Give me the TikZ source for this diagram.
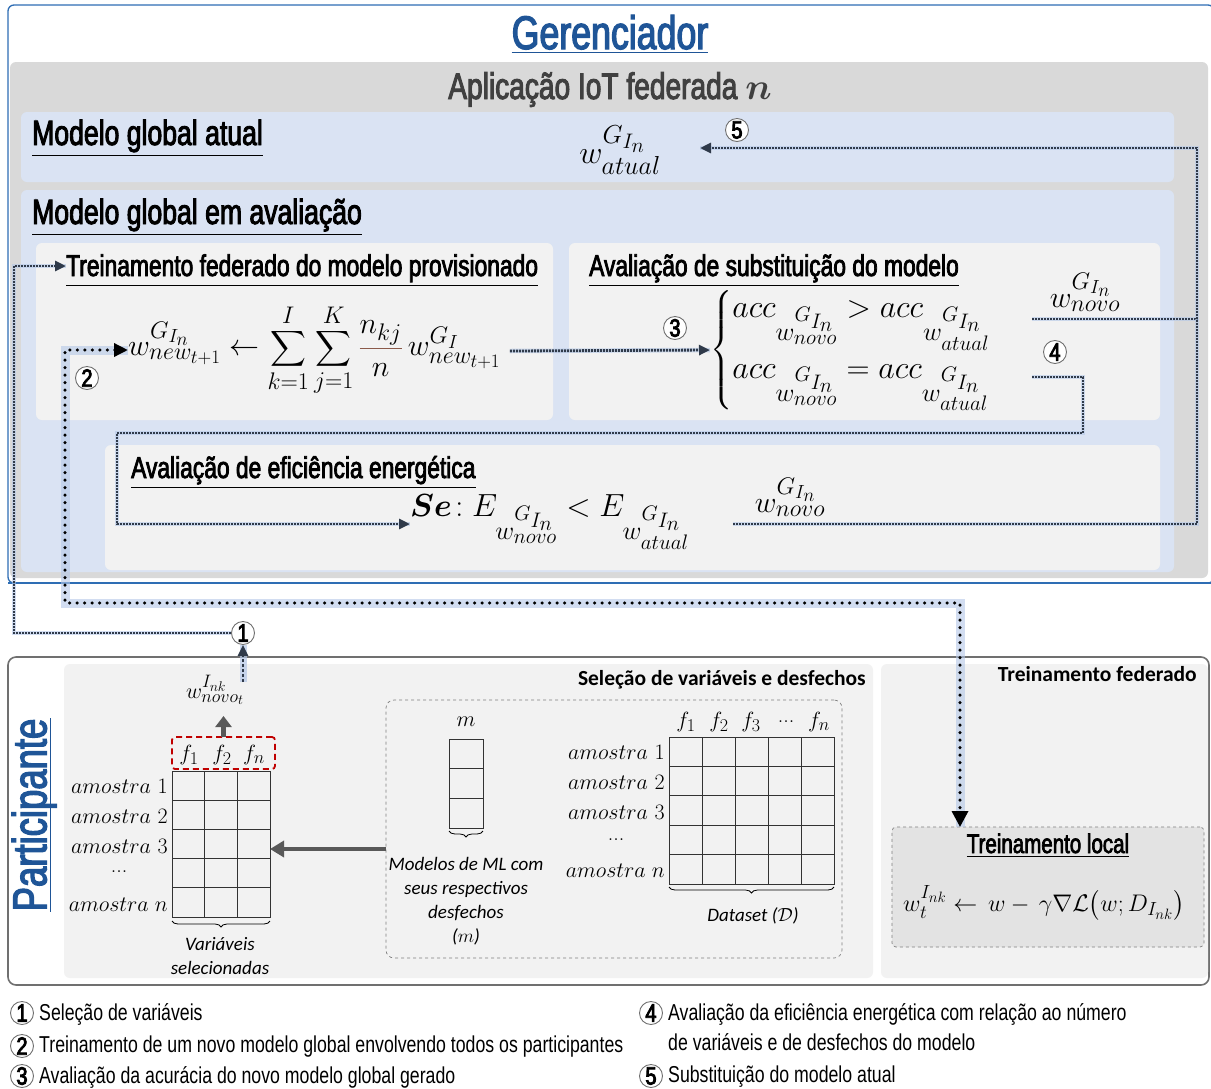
\RequirePackage{fix-cm}
\documentclass[tikz,border=0pt]{standalone}
\usepackage{amsmath}
\usepackage{fontspec}
\newfontfamily\cond{Liberation Sans}[FakeStretch=0.77]
\newfontfamily\condm{Liberation Sans}[FakeStretch=0.76, FakeBold=2.6]
\newfontfamily\condb{Liberation Sans}[FakeStretch=0.8, FakeBold=3.5]
\newfontfamily\calib{Carlito}
\usetikzlibrary{arrows.meta,decorations.pathreplacing,calc}
\newcommand\fsz[2]{\fontsize{#1}{#2}\selectfont}
\DeclareMathSizes{30}{30}{24}{19}
\DeclareMathSizes{32}{32}{26}{21}
\DeclareMathSizes{24}{24}{19}{15}
\DeclareMathSizes{22}{22}{18}{14}
\DeclareMathSizes{37}{37}{28}{22}
\definecolor{titleblue}{HTML}{1F5597}
\definecolor{borderblue}{HTML}{2E6DB4}
\definecolor{appgray}{HTML}{D9D9D9}
\definecolor{lblue}{HTML}{DAE3F3}
\definecolor{lgray}{HTML}{F2F2F2}
\definecolor{localgray}{HTML}{E3E3E3}
\definecolor{halo}{HTML}{B4C7E7}
\definecolor{flowc}{HTML}{2F3A4A}
\definecolor{numgray}{HTML}{707070}
\definecolor{darkg}{HTML}{595959}
\definecolor{fracc}{HTML}{8B5A4A}
\definecolor{redd}{HTML}{C00000}
\definecolor{txtgray}{HTML}{404040}
\begin{document}
\begin{tikzpicture}[x=1pt,y=-1pt,
 box/.style={anchor=north west, inner sep=0pt, outer sep=0pt, rounded corners=6pt},
 hd/.style={anchor=base west, inner sep=0pt, font=\condm\fsz{30}{32}},
 num/.style={circle, draw=numgray, line width=0.9pt, fill=white, inner sep=0pt, minimum size=23pt, font=\condb\fsz{25}{25}},
 flow/.style={line width=2.8pt, dash pattern=on 2pt off 1pt, draw=flowc, preaction={draw=halo, line width=4.5pt, solid, opacity=0.6, arrows=-}},
 tip/.style={-{Triangle[length=11pt,width=10pt]}},
 bigdot/.style={line width=3.4pt, line cap=round, dash pattern=on 0pt off 7.5pt, draw=black, preaction={draw=halo, line width=9pt, solid, line cap=butt, opacity=0.6, arrows=-}},
 garrow/.style={draw=darkg, line width=4.5pt, -{Triangle[length=14pt,width=16pt]}},
 mth/.style={inner sep=0pt, font=\fsz{30}{34}},
 lbl/.style={inner sep=0pt, font=\fsz{22}{24}},
 cell/.style={draw=black!80, line width=1pt},
 legt/.style={anchor=west, inner sep=0pt, font=\cond\fsz{23}{25}},
 ital/.style={inner sep=0pt, font=\calib\itshape\fsz{19}{24}, align=center},
]
\useasboundingbox (0,0) rectangle (1211,1088);

% ---------- Gerenciador ----------
\node[box, draw=borderblue, line width=1.3pt, fill=white, minimum width=1206pt, minimum height=578pt] (mgr) at (8,5) {};
\draw[borderblue, line width=2pt] (mgr.south west) -- (mgr.south east);
\node[anchor=base, inner sep=0pt, font=\condm\fsz{47}{50}, text=titleblue] (tger) at (610,49) {\underline{Gerenciador}};
\node[box, fill=appgray, minimum width=1198pt, minimum height=516pt] (app) at (10,62) {};
\node[anchor=base, inner sep=0pt, font=\condm\fsz{37}{40}, text=txtgray] (tapp) at (610,99) {Aplicação IoT federada $\boldsymbol{n}$};

\node[box, fill=lblue, minimum width=1153pt, minimum height=70pt] (cur) at (21,112) {};
\node[hd, font=\condm\fsz{35}{36}] (tcur) at (32,145) {\underline{Modelo global atual}};
\node[mth, font=\fsz{32}{34}] (wat) at (620,150) {$w^{G_{I_n}}_{atual}$};
\node[num] (n5) at (737,130) {5};

\node[box, fill=lblue, minimum width=1153pt, minimum height=382pt] (eval) at (21,190) {};
\node[hd, font=\condm\fsz{35}{36}] (teval) at (32,224) {\underline{Modelo global em avaliação}};

\node[box, fill=lgray, minimum width=517pt, minimum height=177pt] (train) at (36,243) {};
\node[hd] (ttrain) at (66,276) {\underline{Treinamento federado do modelo provisionado}};
\node[box, fill=lgray, minimum width=591pt, minimum height=177pt] (subst) at (569,243) {};
\node[hd] (tsubst) at (589,276) {\underline{Avaliação de substituição do modelo}};
\node[box, fill=lgray, minimum width=1055pt, minimum height=125pt] (energy) at (105,445) {};
\node[hd] (tenergy) at (131,478) {\underline{Avaliação de eficiência energética}};

% formulas
\node[mth, anchor=west] (f1) at (128,350) {$w^{G_{I_n}}_{new_{t+1}} \leftarrow \displaystyle\sum_{k=1}^{I}\sum_{j=1}^{K}{\color{fracc}\frac{\color{black}n_{kj}}{\color{black}n}}\, w^{G_I}_{new_{t+1}}$};
\node[mth, anchor=west, font=\fsz{32}{34}] (cases) at (710,350) {$\begin{cases} acc_{w^{G_{I_n}}_{novo}} > acc_{w^{G_{I_n}}_{atual}} \\[2pt] acc_{w^{G_{I_n}}_{novo}} = acc_{w^{G_{I_n}}_{atual}}\end{cases}$};
\node[mth] (wn1) at (1085,292) {$w^{G_{I_n}}_{novo}$};
\node[mth, anchor=west, font=\fsz{32}{34}] (fe) at (410,522) {$\boldsymbol{Se}\!: E_{w^{G_{I_n}}_{novo}} < E_{w^{G_{I_n}}_{atual}}$};
\node[mth] (wn2) at (790,497) {$w^{G_{I_n}}_{novo}$};

\node[num] (n3) at (675,328) {3};
\node[num] (n4) at (1055,352) {4};

% ---------- Participante ----------
\node[box, rounded corners=8pt, draw=numgray, line width=1.6pt, fill=white, minimum width=1201pt, minimum height=328pt] (part) at (8,657) {};
\node[box, fill=lgray, minimum width=809pt, minimum height=314pt] (sel) at (64,664) {};
\node[box, fill=lgray, minimum width=327pt, minimum height=314pt] (fed) at (881,664) {};
\node[rotate=90, inner sep=0pt, font=\condm\fsz{48}{50}, text=titleblue] (tpart) at (34,815) {Participante};
\draw[titleblue, line width=1.8pt] ([xshift=-6pt]tpart.south west) -- ([xshift=-6pt]tpart.south east);
\node[anchor=east, inner sep=0pt, font=\calib\bfseries\fsz{21.5}{22}] (tsel) at (866,680) {Seleção de variáveis e desfechos};
\node[anchor=east, inner sep=0pt, font=\calib\bfseries\fsz{21.5}{22}] (tfed) at (1197,674) {Treinamento federado};

\node[box, draw=gray, dashed, line width=0.7pt, rounded corners=8pt, minimum width=456pt, minimum height=258pt] (dsel) at (386,700) {};
\node[box, draw=gray, dashed, line width=0.7pt, rounded corners=4pt, fill=localgray, minimum width=312pt, minimum height=120pt] (local) at (892,827) {};
\node[anchor=base, inner sep=0pt, font=\condm\fsz{27}{30}] (tlocal) at (1048,853) {\underline{Treinamento local}};
\node[inner sep=0pt, font=\fsz{24}{26}] (flocal) at (1044,903) {$w_t^{I_{nk}} \leftarrow\, w -\, \gamma\nabla\mathcal{L}\bigl(w; D_{I_{nk}}\bigr)$};

% left grid
\node[box, rounded corners=0pt, cell, minimum width=98pt, minimum height=146pt] (gridL) at (172,771) {};
\foreach \i in {1,2} \draw[cell] ($(gridL.north west)+(\i*32.67,0)$) -- ++(0,146);
\foreach \j in {1,...,4} \draw[cell] ($(gridL.north west)+(0,\j*29.2)$) -- ++(98,0);
\node[box, rounded corners=3pt, draw=redd, dash pattern=on 6pt off 4pt, line width=1.8pt, minimum width=103pt, minimum height=32pt] (redbox) at (172,737) {};
\node[lbl] (lf1) at (189,755) {$f_1$};
\node[lbl] (lf2) at (222,755) {$f_2$};
\node[lbl] (lfn) at (254,755) {$f_n$};
\node[lbl, anchor=east] (la1) at (168,786) {$amostra$ 1};
\node[lbl, anchor=east] (la2) at (168,816) {$amostra$ 2};
\node[lbl, anchor=east] (la3) at (168,846) {$amostra$ 3};
\node[lbl] (lad) at (119,872) {...};
\node[lbl, anchor=east] (lan) at (168,905) {$amostra\;n$};
\draw[decorate, decoration={brace, amplitude=6pt, mirror}, line width=0.8pt] ($(gridL.south west)+(0,4)$) -- ($(gridL.south east)+(0,4)$);
\node[ital] (tvar) at (220,956) {Variáveis\\selecionadas};
\node[lbl] (wnt) at (215,690) {$w^{I_{nk}}_{novo_t}$};

% m column
\node[box, rounded corners=0pt, cell, minimum width=34pt, minimum height=89pt] (mcol) at (449,739) {};
\foreach \j in {1,2} \draw[cell] ($(mcol.north west)+(0,\j*29.67)$) -- ++(34,0);
\node[lbl] (mlab) at (466,722) {$m$};
\draw[decorate, decoration={brace, amplitude=6pt, mirror}, line width=0.8pt] ($(mcol.south west)+(0,3)$) -- ($(mcol.south east)+(0,3)$);
\node[ital] (tmod) at (466,901) {Modelos de ML com\\seus respectivos\\desfechos\\($m$)};

% dataset grid
\node[box, rounded corners=0pt, cell, minimum width=165pt, minimum height=147pt] (gridD) at (669,737) {};
\foreach \i in {1,...,4} \draw[cell] ($(gridD.north west)+(\i*33,0)$) -- ++(0,147);
\foreach \j in {1,...,4} \draw[cell] ($(gridD.north west)+(0,\j*29.4)$) -- ++(165,0);
\node[lbl] (df1) at (686,722) {$f_1$};
\node[lbl] (df2) at (719,722) {$f_2$};
\node[lbl] (df3) at (751,722) {$f_3$};
\node[lbl] (dfd) at (786,722) {...};
\node[lbl] (dfn) at (819,722) {$f_n$};
\node[lbl, anchor=east] (da1) at (665,752) {$amostra$ 1};
\node[lbl, anchor=east] (da2) at (665,782) {$amostra$ 2};
\node[lbl, anchor=east] (da3) at (665,812) {$amostra$ 3};
\node[lbl] (dad) at (616,840) {...};
\node[lbl, anchor=east] (dan) at (665,871) {$amostra\;n$};
\draw[decorate, decoration={brace, amplitude=6pt, mirror}, line width=0.8pt] ($(gridD.south west)+(0,3)$) -- ($(gridD.south east)+(0,3)$);
\node[ital] (tdat) at (753,916) {Dataset ($\mathcal{D}$)};

% gray arrows
\draw[garrow] (dsel.west |- 0,849) -- (gridL.east |- 0,849);
\draw[garrow, -{Triangle[length=11pt,width=16pt]}] (redbox.north) -- ($(redbox.north)+(0,-21)$);

% ---------- connectors ----------
\node[num] (n1) at (243,633) {1};
\coordinate (c1a) at (14,633);
\coordinate (c1b) at (14,266);
\draw[flow, tip] (n1.west) -- (c1a) -- (c1b) -- (ttrain.west |- c1b);
\draw[line width=2.6pt, dash pattern=on 3pt off 2pt, draw=flowc, tip, preaction={draw=halo, line width=7pt, solid, opacity=0.7, arrows=-}] (243,682) -- (n1.south);

\draw[flow, tip] ($(f1.east)+(9,1)$) -- (cases.west);

\coordinate (c3a) at (1032,319);
\coordinate (c3b) at (1197,319);
\coordinate (c3c) at (1197,148);
\coordinate (c3d) at (700,148);
\draw[flow, tip] (c3a) -- (c3b) -- (c3c) -- (c3d);

\coordinate (c4a) at (1032,377);
\coordinate (c4b) at (1083,377);
\coordinate (c4c) at (1083,433);
\coordinate (c4d) at (117,433);
\coordinate (c4e) at (117,524);
\draw[flow, tip] (c4a) -- (c4b) -- (c4c) -- (c4d) -- (c4e) -- (fe.west |- c4e);

\coordinate (c5a) at (733,524);
\coordinate (c5b) at (1197,524);
\draw[flow] (c5a) -- (c5b) -- (c3b);

\coordinate (b1) at (65,350);
\coordinate (b2) at (65,603);
\coordinate (b3) at (960,603);
\draw[bigdot, {Triangle[length=14pt,width=13pt]}-{Triangle[length=16pt,width=16pt]}] (f1.west |- b1) -- (b1) -- (b2) -- (b3) -- (b3 |- local.north);
\node[num] (n2) at (87,378) {2};

% ---------- legend ----------
\node[num] (l1) at (22,1013) {1};
\node[legt] (lt1) at (39,1014) {Seleção de variáveis};
\node[num] (l2) at (22,1046) {2};
\node[legt] (lt2) at (39,1047) {Treinamento de um novo modelo global envolvendo todos os participantes};
\node[num] (l3) at (22,1076) {3};
\node[legt] (lt3) at (39,1077) {Avaliação da acurácia do novo modelo global gerado};
\node[num] (l4) at (651,1013) {4};
\node[legt] (lt4) at (668,1014) {Avaliação da eficiência energética com relação ao número};
\node[legt] (lt4b) at (668,1042) {de variáveis e de desfechos do modelo};
\node[num] (l5) at (651,1076) {5};
\node[legt] (lt5) at (668,1077) {Substituição do modelo atual};
\end{tikzpicture}
\end{document}
